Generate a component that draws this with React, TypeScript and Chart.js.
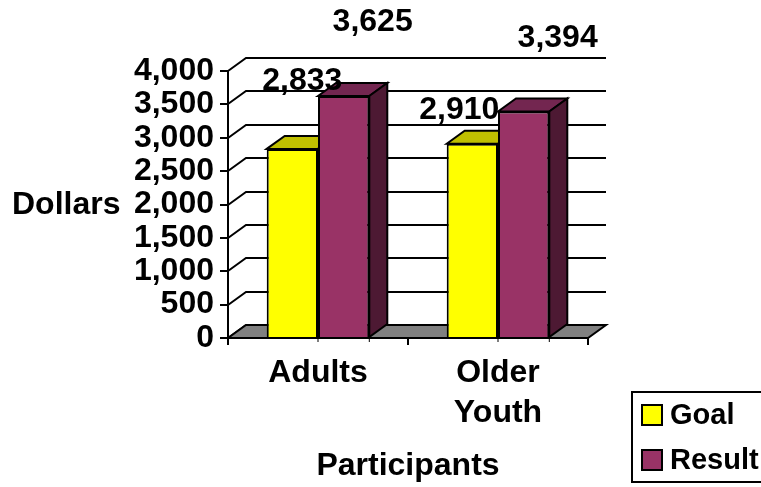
import React, { useEffect, useRef } from "react";
import { Chart, registerables } from "chart.js";

Chart.register(...registerables);

const categories = [["Adults"], ["Older", "Youth"]];
const goalValues = [2833, 2910];
const resultValues = [3625, 3394];
const yTicks = [0, 500, 1000, 1500, 2000, 2500, 3000, 3500, 4000];

const FONT = "'Liberation Sans', Arial, sans-serif";
const FONT_SIZE = 32;
const boldFont = { family: FONT, size: FONT_SIZE, weight: "bold" as const, lineHeight: 1.25 };
const fontCss = `bold ${FONT_SIZE}px ${FONT}`;
const legendFontCss = `bold 29px ${FONT}`;

// Receding depth of the pseudo-3D box
const DEPTH_X = 18;
const DEPTH_Y = -13;

// Hand-placed value labels, as offsets from the top centre of each bar
const labelOffsets = [
  [[10, -68], [-13, -34]],
  [[29, -74], [34, -73]],
];

const shades = [
  { face: "#FFFF00", top: "#C0C000", side: "#808000" },
  { face: "#993366", top: "#732650", side: "#4D1933" },
];

function polygon(ctx: CanvasRenderingContext2D, pts: number[][], fill: string) {
  ctx.beginPath();
  pts.forEach(([x, y], i) => (i ? ctx.lineTo(x, y) : ctx.moveTo(x, y)));
  ctx.closePath();
  ctx.fillStyle = fill;
  ctx.fill();
  ctx.lineWidth = 2;
  ctx.strokeStyle = "#000";
  ctx.stroke();
}

const box3d = {
  id: "box3d",
  // Floor, back wall grid and the bars' receding faces sit behind the bar fronts
  beforeDatasetsDraw(chart: any) {
    const { ctx, chartArea: a, scales } = chart;
    ctx.save();
    ctx.lineWidth = 2;
    ctx.strokeStyle = "#000";
    yTicks.forEach((t) => {
      const y = Math.round(scales.y.getPixelForValue(t));
      ctx.beginPath();
      ctx.moveTo(a.left, y);
      ctx.lineTo(a.left + DEPTH_X, y + DEPTH_Y);
      if (t > 0) ctx.lineTo(a.right + DEPTH_X, y + DEPTH_Y);
      ctx.stroke();
    });
    polygon(
      ctx,
      [
        [a.left, a.bottom],
        [a.left + DEPTH_X, a.bottom + DEPTH_Y],
        [a.right + DEPTH_X, a.bottom + DEPTH_Y],
        [a.right, a.bottom],
      ],
      "#808080",
    );
    chart.data.datasets.forEach((_: any, d: number) => {
      chart.getDatasetMeta(d).data.forEach((bar: any) => {
        const half = bar.width / 2;
        const l = bar.x - half;
        const r = bar.x + half;
        const t = bar.y;
        const b = bar.base;
        polygon(ctx, [[l, t], [l + DEPTH_X, t + DEPTH_Y], [r + DEPTH_X, t + DEPTH_Y], [r, t]], shades[d].top);
        polygon(ctx, [[r, t], [r + DEPTH_X, t + DEPTH_Y], [r + DEPTH_X, b + DEPTH_Y], [r, b]], shades[d].side);
      });
    });
    ctx.restore();
  },
  // Value labels, the horizontal axis title and the framed legend
  afterDraw(chart: any) {
    const { ctx, chartArea: a } = chart;
    ctx.save();
    ctx.strokeStyle = "#000";
    ctx.lineWidth = 1;
    // Short nubs where the bar outlines meet the floor edge
    chart.getDatasetMeta(1).data.forEach((bar: any) => {
      [bar.x - bar.width / 2, bar.x + bar.width / 2].forEach((x) => {
        ctx.beginPath();
        ctx.moveTo(x, a.bottom);
        ctx.lineTo(x, a.bottom + 4);
        ctx.stroke();
      });
    });
    ctx.font = fontCss;
    ctx.fillStyle = "#000";
    ctx.textAlign = "center";
    ctx.textBaseline = "middle";
    chart.data.datasets.forEach((ds: any, d: number) => {
      chart.getDatasetMeta(d).data.forEach((bar: any, i: number) => {
        const [dx, dy] = labelOffsets[d][i];
        ctx.fillText(ds.data[i].toLocaleString("en-US"), bar.x + dx, bar.y + dy);
      });
    });
    ctx.textAlign = "left";
    ctx.fillText("Dollars", 12, 205);

    ctx.fillStyle = "#fff";
    ctx.lineWidth = 2;
    ctx.fillRect(632, 392, 140, 90);
    ctx.strokeRect(632, 392, 140, 90);
    ctx.font = legendFontCss;
    chart.data.datasets.forEach((ds: any, d: number) => {
      const y = 416 + d * 45;
      ctx.fillStyle = shades[d].face;
      ctx.fillRect(642, y - 11, 20, 20);
      ctx.strokeRect(642, y - 11, 20, 20);
      ctx.fillStyle = "#000";
      ctx.fillText(ds.label, 670, y);
    });
    ctx.restore();
  },
};

export default function App() {
  const ref = useRef<HTMLCanvasElement>(null);

  useEffect(() => {
    const chart = new Chart(ref.current!, {
      type: "bar",
      data: {
        labels: categories,
        datasets: [
          { label: "Goal", data: goalValues, backgroundColor: shades[0].face, borderColor: "#000", borderWidth: 2 },
          { label: "Result", data: resultValues, backgroundColor: shades[1].face, borderColor: "#000", borderWidth: 2 },
        ],
      },
      options: {
        responsive: false,
        animation: false,
        categoryPercentage: 0.57,
        barPercentage: 1,
        layout: { padding: { top: 71, right: 173, left: 0, bottom: 0 } },
        plugins: { legend: { display: false }, tooltip: { enabled: false } },
        scales: {
          x: {
            grid: { drawOnChartArea: false, color: "#000", lineWidth: 2, tickLength: 7 },
            border: { color: "#000", width: 2 },
            ticks: { color: "#000", font: boldFont, padding: 8, maxRotation: 0, autoSkip: false },
            title: {
              display: true,
              text: "Participants",
              color: "#000",
              font: boldFont,
              padding: { top: 0, bottom: 1 },
            },
            afterFit(scale: any) {
              scale.height = 149;
            },
          },
          y: {
            min: 0,
            max: 4000,
            afterBuildTicks(scale: any) {
              scale.ticks = yTicks.map((value) => ({ value }));
            },
            grid: { drawOnChartArea: false, color: "#000", lineWidth: 2, tickLength: 8 },
            border: { color: "#000", width: 2 },
            ticks: {
              color: "#000",
              font: boldFont,
              padding: 6,
              autoSkip: false,
              callback: (v: any) => Number(v).toLocaleString("en-US"),
            },
            afterFit(scale: any) {
              scale.width = 228;
            },
          },
        },
      },
      plugins: [box3d],
    } as any);
    return () => chart.destroy();
  }, []);

  return (
    <div style={{ position: "fixed", left: 0, top: 0, width: 761, height: 487, background: "#fff", overflow: "hidden" }}>
      <canvas ref={ref} width={761} height={487} style={{ display: "block" }} />
    </div>
  );
}
